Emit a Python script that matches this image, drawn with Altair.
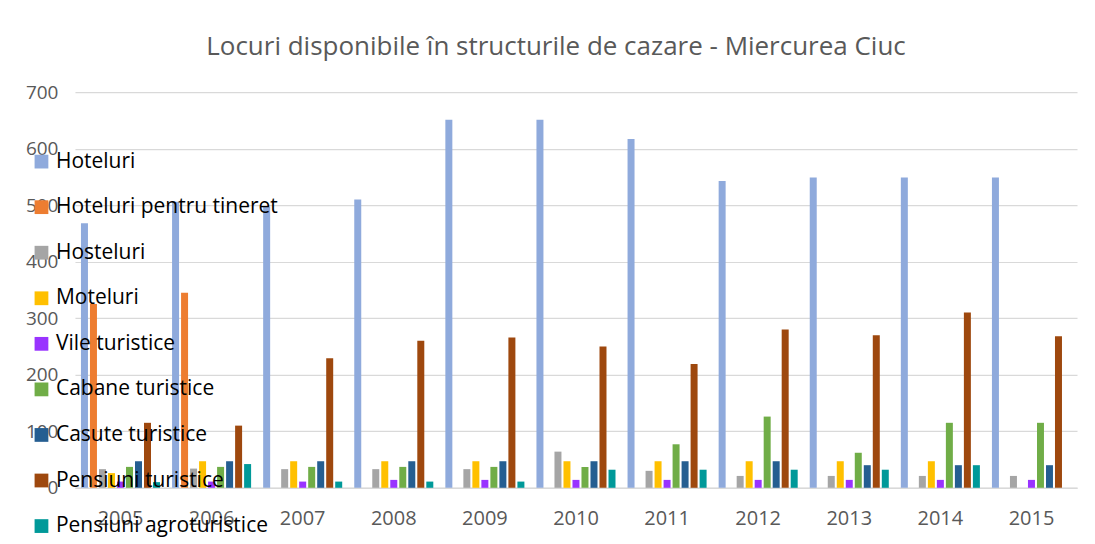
import altair as alt
import pandas as pd

years = ["2005", "2006", "2007", "2008", "2009", "2010", "2011", "2012", "2013", "2014", "2015"]
series = ["Hoteluri", "Hoteluri pentru tineret", "Hosteluri", "Moteluri", "Vile turistice",
          "Cabane turistice", "Casute turistice", "Pensiuni turistice", "Pensiuni agroturistice"]
colors = ["#8FAADC", "#ED7D31", "#A5A5A5", "#FFC000", "#9933FF",
          "#70AD47", "#255E91", "#9E480E", "#009999"]

hoteluri = [468, 506, 497, 510, 651, 651, 617, 543, 549, 549, 549]
hoteluri_tineret = [325, 345, None, None, None, None, None, None, None, None, None]
hosteluri = [33, 34, 33, 33, 33, 64, 30, 21, 21, 21, 21]
moteluri = [26, 47, 47, 47, 47, 47, 47, 47, 47, 47, None]
vile = [11, 11, 11, 14, 14, 14, 14, 14, 14, 14, 14]
cabane = [37, 37, 37, 37, 37, 37, 77, 126, 62, 115, 115]
casute = [47, 47, 47, 47, 47, 47, 47, 47, 40, 40, 40]
pensiuni = [115, 110, 229, 260, 266, 250, 219, 280, 270, 310, 268]
agro = [10, 42, 11, 11, 11, 32, 32, 32, 32, 40, None]

all_values = [hoteluri, hoteluri_tineret, hosteluri, moteluri, vile, cabane, casute, pensiuni, agro]

rows = []
for s, vals in zip(series, all_values):
    for y, v in zip(years, vals):
        if v is not None:
            rows.append({"An": y, "Tip": s, "Locuri": v})
df = pd.DataFrame(rows)

FONT = "Open Sans"

chart = alt.Chart(df).mark_bar(size=7).encode(
    x=alt.X("An:N", sort=years, title=None,
            scale=alt.Scale(paddingInner=0.13, paddingOuter=0.065),
            axis=alt.Axis(labelAngle=0, ticks=False, domain=True, domainColor="#D9D9D9",
                          domainWidth=1.5, labelPadding=21, labelFontSize=20,
                          labelColor="#595959", labelFont=FONT, grid=False)),
    xOffset=alt.XOffset("Tip:N", sort=series, scale=alt.Scale(domain=series, paddingInner=0.2)),
    y=alt.Y("Locuri:Q", title=None,
            scale=alt.Scale(domain=[0, 700], nice=False),
            axis=alt.Axis(values=[0, 100, 200, 300, 400, 500, 600, 700], ticks=False, domain=False,
                          gridColor="#D9D9D9", gridWidth=1.2, labelPadding=17,
                          labelFontSize=19, labelColor="#595959", labelFont=FONT)),
    color=alt.Color("Tip:N", sort=series,
                    scale=alt.Scale(domain=series, range=colors),
                    legend=alt.Legend(title=None, orient="none", legendX=-44, legendY=59,
                                      symbolType="square", symbolSize=190, symbolStrokeWidth=0,
                                      symbolOpacity=1, labelFontSize=21, labelFont=FONT,
                                      labelColor="#000000", rowPadding=23.6, labelOffset=4,
                                      padding=0, labelLimit=400)),
).properties(
    width=1003,
    height=396,
    title=alt.Title("Locuri disponibile în structurile de cazare - Miercurea Ciuc",
                    fontSize=26, font=FONT, fontWeight="normal", color="#595959",
                    anchor="middle", offset=23, dx=-20),
    autosize=alt.AutoSizeParams(type="none"),
    padding={"left": 67, "top": 84, "right": 10, "bottom": 52},
).configure_view(stroke=None)

chart.save("out.html", embed_options={"renderer": "svg", "actions": False})
